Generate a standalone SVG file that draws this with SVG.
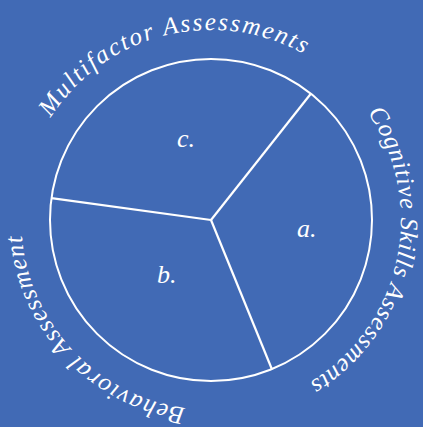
<svg xmlns="http://www.w3.org/2000/svg" xmlns:xlink="http://www.w3.org/1999/xlink" width="423" height="427" viewBox="0 0 423 427">
  <style>
    .bg { fill: #416AB5; }
    .ring { fill: none; stroke: #FFFFFF; stroke-width: 2; }
    .div { stroke: #FFFFFF; stroke-width: 2.2; fill: none; }
    .arc-label { font-family: "Liberation Serif", "DejaVu Serif", serif; font-style: italic; font-size: 25px; fill: #FFFFFF; }
    .seg-label { font-family: "Liberation Serif", "DejaVu Serif", serif; font-style: italic; font-size: 26px; fill: #FFFFFF; }
  </style>
  <defs>
    <path id="arcTop" d="M 21.4 232.9 A 190 190 0 0 1 384.7 143.0"/>
    <path id="arcRight" d="M 283.1 44.2 A 190 190 0 0 1 203.4 409.8"/>
    <path id="arcLeft" d="M 315.3 378.8 A 190 190 0 0 1 58.7 106.5"/>
  </defs>
  <rect class="bg" x="0" y="0" width="423" height="427"/>
  <g id="connectors">
    <line class="div" x1="211" y1="220" x2="310.8" y2="93.7"/>
    <line class="div" x1="211" y1="220" x2="51.5" y2="198.2"/>
    <line class="div" x1="211" y1="220" x2="272" y2="369.5"/>
  </g>
  <g id="circle">
    <circle class="ring" cx="211" cy="220" r="161"/>
  </g>
  <g id="node-a">
    <text class="seg-label" x="297" y="237">a.</text>
  </g>
  <g id="node-b">
    <text class="seg-label" x="157" y="283">b.</text>
  </g>
  <g id="node-c">
    <text class="seg-label" x="177" y="147">c.</text>
  </g>
  <g id="label-multifactor">
    <text class="arc-label" letter-spacing="2" text-anchor="middle"><textPath href="#arcTop" xlink:href="#arcTop" startOffset="50%">Multifactor Assessments</textPath></text>
  </g>
  <g id="label-cognitive">
    <text class="arc-label" letter-spacing="0.8" text-anchor="middle"><textPath href="#arcRight" xlink:href="#arcRight" startOffset="50%">Cognitive Skills Assessments</textPath></text>
  </g>
  <g id="label-behavioral">
    <text class="arc-label" letter-spacing="1.3" text-anchor="middle"><textPath href="#arcLeft" xlink:href="#arcLeft" startOffset="50%">Behavioral Assessment</textPath></text>
  </g>
</svg>
